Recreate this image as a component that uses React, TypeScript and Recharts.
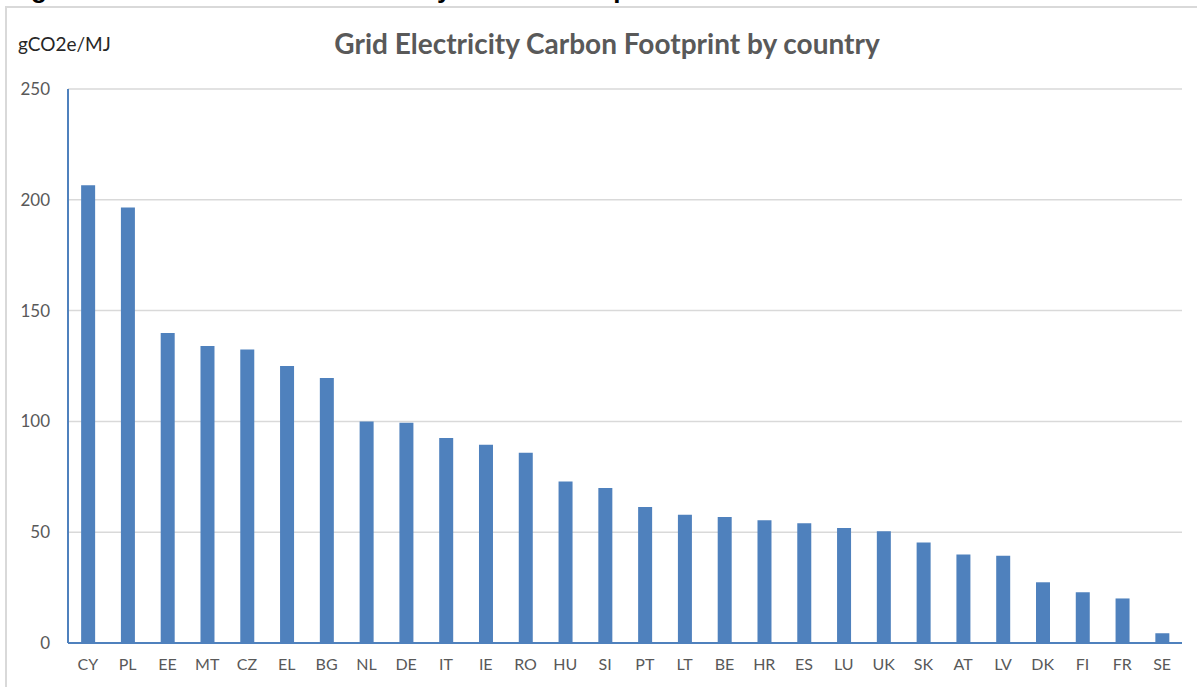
import { BarChart, Bar, XAxis, YAxis, CartesianGrid } from 'recharts'

// gCO2e/MJ por país
const paises = ['CY', 'PL', 'EE', 'MT', 'CZ', 'EL', 'BG', 'NL', 'DE', 'IT', 'IE', 'RO', 'HU', 'SI', 'PT', 'LT', 'BE', 'HR', 'ES', 'LU', 'UK', 'SK', 'AT', 'LV', 'DK', 'FI', 'FR', 'SE']
const intensidade = [206.6, 196.5, 139.9, 134.0, 132.5, 125.0, 119.6, 100.0, 99.4, 92.5, 89.5, 85.9, 72.9, 70.0, 61.4, 57.9, 56.9, 55.4, 54.0, 51.9, 50.4, 45.4, 39.9, 39.4, 27.4, 22.9, 20.1, 4.4]
const ticksY = [0, 50, 100, 150, 200, 250]

const titulo = 'Grid Electricity Carbon Footprint by country'
const unidade = 'gCO2e/MJ'
const legendaFigura = 'Figure 6: EU and UK Grid Electricity Carbon Footprint 2016'

const dados = paises.map((pais, i) => ({ pais, valor: intensidade[i] }))

const FONTE = 'Lato, "Open Sans", sans-serif'
const AZUL = '#4F81BD'
const CINZA = '#595959'

export default function App() {
  return (
    <div style={{ position: 'absolute', left: 0, top: 0, width: 1197, height: 687, overflow: 'hidden', background: '#fff', fontFamily: FONTE }}>
      {/* legenda da figura, cortada no topo como na imagem */}
      <div style={{ position: 'absolute', left: 8, top: -26, fontFamily: 'Arial, "Liberation Sans", sans-serif', fontWeight: 700, fontSize: 26, color: '#000', whiteSpace: 'nowrap', lineHeight: '30px' }}>
        {legendaFigura}
      </div>
      {/* moldura */}
      <div style={{ position: 'absolute', left: 5, top: 6, width: 1300, height: 800, borderTop: '2px solid #D9D9D9', borderLeft: '2px solid #D9D9D9', background: '#fff' }} />
      <div style={{ position: 'absolute', left: 0, top: 0 }}>
        <BarChart width={1197} height={687} data={dados} margin={{ top: 89, right: 15, left: 28, bottom: 0 }} barCategoryGap="33%">
          <CartesianGrid vertical={false} stroke="#D9D9D9" strokeWidth={1.5} />
          <XAxis
            dataKey="pais"
            height={44}
            tickLine={false}
            tickSize={0}
            tickMargin={16}
            axisLine={{ stroke: AZUL, strokeWidth: 2 }}
            tick={{ fill: CINZA, fontSize: 16, fontFamily: FONTE }}
            interval={0}
          />
          <YAxis
            width={40}
            domain={[0, 250]}
            ticks={ticksY}
            tickLine={false}
            tickSize={0}
            tickMargin={18}
            axisLine={{ stroke: AZUL, strokeWidth: 2 }}
            tick={{ fill: CINZA, fontSize: 17, fontFamily: FONTE }}
          />
          <Bar dataKey="valor" fill={AZUL} isAnimationActive={false} />
        </BarChart>
      </div>
      <div style={{ position: 'absolute', left: 18, top: 32, fontSize: 19, color: '#262626', whiteSpace: 'nowrap' }}>{unidade}</div>
      <div style={{ position: 'absolute', left: 0, width: 1214, top: 26, textAlign: 'center', fontSize: 28, fontWeight: 700, color: CINZA, whiteSpace: 'nowrap' }}>{titulo}</div>
    </div>
  )
}
